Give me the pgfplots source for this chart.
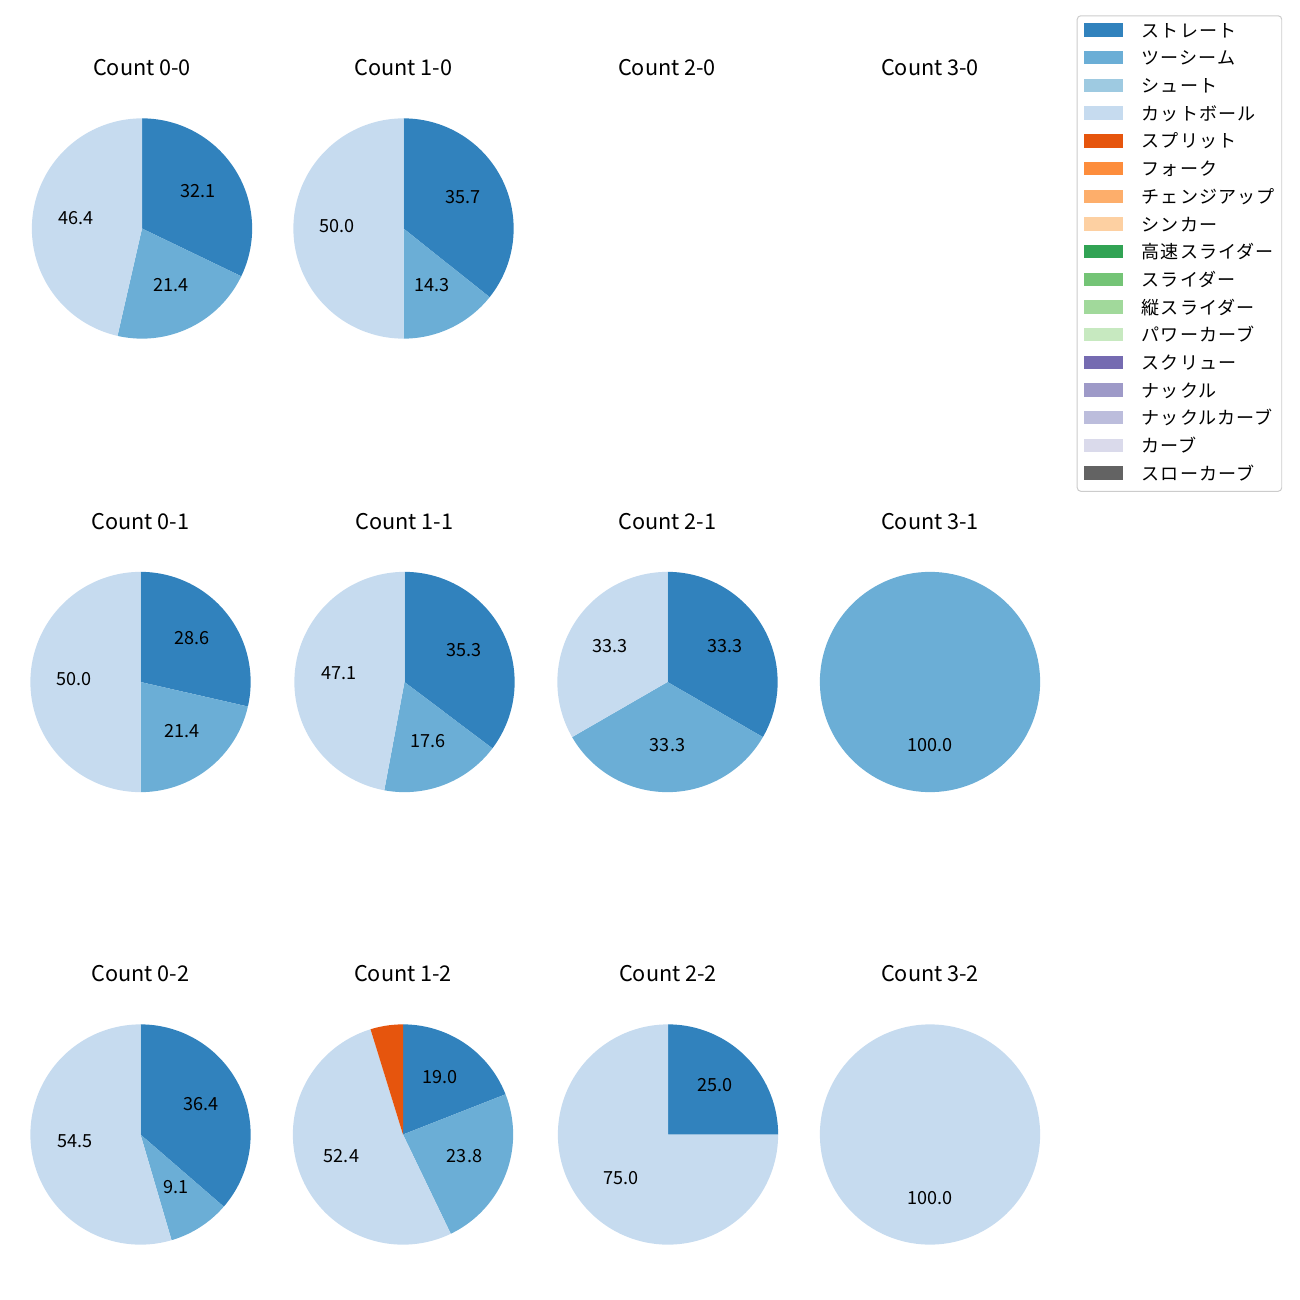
\documentclass[border=0pt]{standalone}
\usepackage{fontspec}
\setmainfont{Noto Sans CJK JP}
\newfontfamily\legfont[LetterSpace=6]{Noto Sans CJK JP}
\usepackage{pgfplots}
\pgfplotsset{compat=1.18}
\definecolor{c1}{HTML}{3182BD}
\definecolor{c2}{HTML}{6BAED6}
\definecolor{c3}{HTML}{9ECAE1}
\definecolor{c4}{HTML}{C6DBEF}
\definecolor{c5}{HTML}{E6550D}
\definecolor{c6}{HTML}{FD8D3C}
\definecolor{c7}{HTML}{FDAE6B}
\definecolor{c8}{HTML}{FDD0A2}
\definecolor{c9}{HTML}{31A354}
\definecolor{c10}{HTML}{74C476}
\definecolor{c11}{HTML}{A1D99B}
\definecolor{c12}{HTML}{C7E9C0}
\definecolor{c13}{HTML}{756BB1}
\definecolor{c14}{HTML}{9E9AC8}
\definecolor{c15}{HTML}{BCBDDC}
\definecolor{c16}{HTML}{DADAEB}
\definecolor{c17}{HTML}{636363}
\tikzset{plabel/.style={font=\fontsize{10}{12}\selectfont, yshift=1.5pt},
         ptitle/.style={font=\fontsize{12}{14}\selectfont, anchor=base}}
\pgfplotsset{pieax/.style={anchor=center, hide axis, x=61pt, y=61pt,
  xmin=-1, xmax=1, ymin=-1, ymax=1, clip=false}}
\gdef\cum{0}
\newcommand{\resetpie}{\gdef\cum{0}}
% #1 = percentage, #2 = colour, #3 = label text
\newcommand{\pieslice}[3]{%
  \pgfmathparse{90-3.6*\cum}\let\sa\pgfmathresult
  \pgfmathparse{\cum+#1}\xdef\cum{\pgfmathresult}%
  \pgfmathparse{90-3.6*\cum}\let\sb\pgfmathresult
  \pgfmathparse{0.6*cos((\sa+\sb)/2)}\let\mx\pgfmathresult
  \pgfmathparse{0.6*sin((\sa+\sb)/2)}\let\my\pgfmathresult
  \edef\doit{\noexpand\addplot[fill=#2, draw=none, domain=\sb:\sa, samples=120]
     ({cos(x)},{sin(x)}) -- (axis cs:0,0) -- cycle;
     \noexpand\node[plabel] at (axis cs:\mx,\my) {#3};}%
  \doit}
\begin{document}
\begin{tikzpicture}
\useasboundingbox (0,0) rectangle (720pt,-720pt);
% ---------- row 0 ----------
\begin{axis}[pieax, at={(78.65pt,-126.55pt)}]
\resetpie
\pieslice{32.14}{c1}{32.1}
\pieslice{21.43}{c2}{21.4}
\pieslice{46.43}{c4}{46.4}
\node[ptitle] at (axis cs:0,1.386) {Count 0-0};
\end{axis}
\begin{axis}[pieax, at={(223.48pt,-126.55pt)}]
\resetpie
\pieslice{35.71}{c1}{35.7}
\pieslice{14.29}{c2}{14.3}
\pieslice{50.0}{c4}{50.0}
\node[ptitle] at (axis cs:0,1.386) {Count 1-0};
\end{axis}
\begin{axis}[pieax, at={(369.42pt,-126.55pt)}]
\node[ptitle] at (axis cs:0,1.386) {Count 2-0};
\end{axis}
\begin{axis}[pieax, at={(515.08pt,-126.55pt)},
  legend image code/.code={\path[#1, draw=none, sharp corners] (0pt,-2.6pt) rectangle (21.6pt,4.8pt); \path (31.6pt,0pt);},
  legend cell align=left,
  legend style={at={(1.166,1.468)}, anchor=north west, draw=black!20, line width=0.55pt,
    rounded corners=2pt, fill=white, font=\fontsize{10}{12}\legfont,
    inner xsep=3.9pt, inner ysep=3.4pt, row sep=4.03pt,
    nodes={inner sep=0pt, text height=8.5pt, text depth=2.8pt}}]
\node[ptitle] at (axis cs:0,1.386) {Count 3-0};
\addlegendimage{fill=c1}\addlegendentry{ストレート}
\addlegendimage{fill=c2}\addlegendentry{ツーシーム}
\addlegendimage{fill=c3}\addlegendentry{シュート}
\addlegendimage{fill=c4}\addlegendentry{カットボール}
\addlegendimage{fill=c5}\addlegendentry{スプリット}
\addlegendimage{fill=c6}\addlegendentry{フォーク}
\addlegendimage{fill=c7}\addlegendentry{チェンジアップ}
\addlegendimage{fill=c8}\addlegendentry{シンカー}
\addlegendimage{fill=c9}\addlegendentry{高速スライダー}
\addlegendimage{fill=c10}\addlegendentry{スライダー}
\addlegendimage{fill=c11}\addlegendentry{縦スライダー}
\addlegendimage{fill=c12}\addlegendentry{パワーカーブ}
\addlegendimage{fill=c13}\addlegendentry{スクリュー}
\addlegendimage{fill=c14}\addlegendentry{ナックル}
\addlegendimage{fill=c15}\addlegendentry{ナックルカーブ}
\addlegendimage{fill=c16}\addlegendentry{カーブ}
\addlegendimage{fill=c17}\addlegendentry{スローカーブ}
\end{axis}
% ---------- row 1 ----------
\begin{axis}[pieax, at={(77.82pt,-377.72pt)}]
\resetpie
\pieslice{28.57}{c1}{28.6}
\pieslice{21.43}{c2}{21.4}
\pieslice{50.0}{c4}{50.0}
\node[ptitle] at (axis cs:0,1.386) {Count 0-1};
\end{axis}
\begin{axis}[pieax, at={(224.03pt,-377.72pt)}]
\resetpie
\pieslice{35.29}{c1}{35.3}
\pieslice{17.65}{c2}{17.6}
\pieslice{47.06}{c4}{47.1}
\node[ptitle] at (axis cs:0,1.386) {Count 1-1};
\end{axis}
\begin{axis}[pieax, at={(369.69pt,-377.72pt)}]
\resetpie
\pieslice{33.333}{c1}{33.3}
\pieslice{33.333}{c2}{33.3}
\pieslice{33.334}{c4}{33.3}
\node[ptitle] at (axis cs:0,1.386) {Count 2-1};
\end{axis}
\begin{axis}[pieax, at={(515.08pt,-377.72pt)}]
\resetpie
\pieslice{100}{c2}{100.0}
\node[ptitle] at (axis cs:0,1.386) {Count 3-1};
\end{axis}
% ---------- row 2 ----------
\begin{axis}[pieax, at={(77.82pt,-628.34pt)}]
\resetpie
\pieslice{36.36}{c1}{36.4}
\pieslice{9.09}{c2}{9.1}
\pieslice{54.55}{c4}{54.5}
\node[ptitle] at (axis cs:0,1.386) {Count 0-2};
\end{axis}
\begin{axis}[pieax, at={(223.20pt,-628.34pt)}]
\resetpie
\pieslice{19.05}{c1}{19.0}
\pieslice{23.81}{c2}{23.8}
\pieslice{52.38}{c4}{52.4}
\pieslice{4.76}{c5}{}
\node[ptitle] at (axis cs:0,1.386) {Count 1-2};
\end{axis}
\begin{axis}[pieax, at={(369.97pt,-628.34pt)}]
\resetpie
\pieslice{25.0}{c1}{25.0}
\pieslice{75.0}{c4}{75.0}
\node[ptitle] at (axis cs:0,1.386) {Count 2-2};
\end{axis}
\begin{axis}[pieax, at={(515.08pt,-628.34pt)}]
\resetpie
\pieslice{100}{c4}{100.0}
\node[ptitle] at (axis cs:0,1.386) {Count 3-2};
\end{axis}
\end{tikzpicture}
\end{document}
